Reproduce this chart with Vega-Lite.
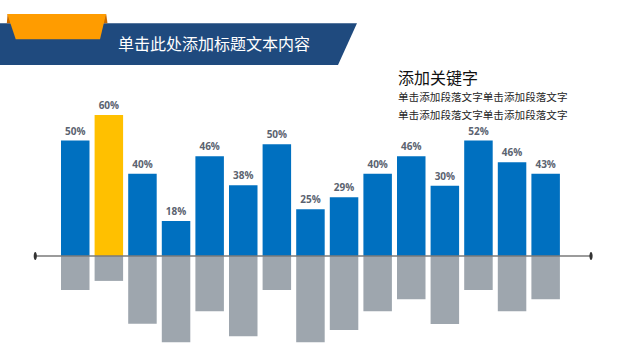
{
  "$schema": "https://vega.github.io/schema/vega-lite/v6.json",
  "width": 635,
  "height": 361,
  "padding": 0,
  "autosize": {"type": "fit", "contains": "padding"},
  "background": "#ffffff",
  "config": {"view": {"stroke": null}},
  "datasets": {
    "bars": [
      {"i": 1, "label": "50%", "up": 49.1, "down": -14.5},
      {"i": 2, "label": "60%", "up": 60.0, "down": -10.6},
      {"i": 3, "label": "40%", "up": 35.0, "down": -28.8},
      {"i": 4, "label": "18%", "up": 14.9, "down": -36.7},
      {"i": 5, "label": "46%", "up": 42.4, "down": -23.5},
      {"i": 6, "label": "38%", "up": 30.1, "down": -34.2},
      {"i": 7, "label": "50%", "up": 47.5, "down": -14.5},
      {"i": 8, "label": "25%", "up": 19.9, "down": -36.7},
      {"i": 9, "label": "29%", "up": 25.0, "down": -31.5},
      {"i": 10, "label": "40%", "up": 35.0, "down": -23.5},
      {"i": 11, "label": "46%", "up": 42.4, "down": -18.4},
      {"i": 12, "label": "30%", "up": 29.9, "down": -28.9},
      {"i": 13, "label": "52%", "up": 49.1, "down": -14.5},
      {"i": 14, "label": "46%", "up": 39.9, "down": -23.5},
      {"i": 15, "label": "43%", "up": 35.0, "down": -18.4}
    ],
    "banner": [
      {"bx": -1.3, "bt": 99.02, "bb": 81.28},
      {"bx": 8.82, "bt": 99.02, "bb": 81.28},
      {"bx": 9.385, "bt": 99.02, "bb": 99.02}
    ],
    "tab": [
      {"ty": 102.98, "tl": -1.022, "tr": 1.915},
      {"ty": 92.21, "tl": -0.772, "tr": 1.737}
    ],
    "folds": [
      {"side": "l", "fy": 102.98, "fl": -1.0134, "fr": -0.9955},
      {"side": "l", "fy": 99.02, "fl": -1.0372, "fr": -0.912},
      {"side": "r", "fy": 102.98, "fl": 1.9, "fr": 1.921},
      {"side": "r", "fy": 99.02, "fl": 1.826, "fr": 1.96}
    ],
    "ends": [{"e": -0.19}, {"e": 16.35}],
    "one": [{}]
  },
  "layer": [
    {
      "data": {"name": "banner"},
      "mark": {"type": "area", "color": "#1f4a7e", "clip": true},
      "encoding": {
        "x": {"field": "bx", "type": "quantitative", "scale": {"domain": [-1.2396, 17.6592], "nice": false, "zero": false, "padding": 0}, "axis": null},
        "y": {"field": "bt", "type": "quantitative", "scale": {"domain": [-44.681, 108.936], "nice": false, "zero": false, "padding": 0}, "axis": null},
        "y2": {"field": "bb"}
      }
    },
    {
      "data": {"name": "folds"},
      "mark": {"type": "area", "orient": "horizontal", "color": "#c86a00"},
      "encoding": {
        "y": {"field": "fy", "type": "quantitative"},
        "x": {"field": "fl", "type": "quantitative"},
        "x2": {"field": "fr"},
        "detail": {"field": "side"}
      }
    },
    {
      "data": {"name": "tab"},
      "mark": {"type": "area", "orient": "horizontal", "color": "#ff9c00"},
      "encoding": {
        "y": {"field": "ty", "type": "quantitative"},
        "x": {"field": "tl", "type": "quantitative"},
        "x2": {"field": "tr"}
      }
    },
    {
      "data": {"name": "one"},
      "mark": {"type": "text", "color": "#ffffff", "font": "Noto Sans CJK SC", "fontSize": 16, "align": "center", "baseline": "middle"},
      "encoding": {
        "x": {"datum": 5.129, "type": "quantitative"},
        "y": {"datum": 89.79, "type": "quantitative"},
        "text": {"value": "单击此处添加标题文本内容"}
      }
    },
    {
      "data": {"name": "one"},
      "mark": {"type": "text", "color": "#111111", "font": "Noto Sans CJK SC", "fontSize": 16, "align": "left", "baseline": "middle"},
      "encoding": {
        "x": {"datum": 10.606, "type": "quantitative"},
        "y": {"datum": 75.32, "type": "quantitative"},
        "text": {"value": "添加关键字"}
      }
    },
    {
      "data": {"name": "one"},
      "mark": {"type": "text", "color": "#262626", "font": "Noto Sans CJK SC", "fontSize": 10.6, "align": "left", "baseline": "middle"},
      "encoding": {
        "x": {"datum": 10.606, "type": "quantitative"},
        "y": {"datum": 67.23, "type": "quantitative"},
        "text": {"value": "单击添加段落文字单击添加段落文字"}
      }
    },
    {
      "data": {"name": "one"},
      "mark": {"type": "text", "color": "#262626", "font": "Noto Sans CJK SC", "fontSize": 10.6, "align": "left", "baseline": "middle"},
      "encoding": {
        "x": {"datum": 10.606, "type": "quantitative"},
        "y": {"datum": 59.57, "type": "quantitative"},
        "text": {"value": "单击添加段落文字单击添加段落文字"}
      }
    },
    {
      "data": {"name": "bars"},
      "mark": {"type": "bar", "width": 28.5, "color": "#9ea6ae"},
      "encoding": {
        "x": {"field": "i", "type": "quantitative"},
        "y": {"field": "down", "type": "quantitative"},
        "y2": {"datum": 0}
      }
    },
    {
      "data": {"name": "bars"},
      "mark": {"type": "bar", "width": 28.5},
      "encoding": {
        "x": {"field": "i", "type": "quantitative"},
        "y": {"field": "up", "type": "quantitative"},
        "y2": {"datum": 0},
        "color": {"condition": {"test": "datum.i == 2", "value": "#ffc000"}, "value": "#0070c0"}
      }
    },
    {
      "data": {"name": "bars"},
      "mark": {"type": "text", "font": "Open Sans", "fontWeight": "bold", "fontSize": 10, "color": "#5b6370", "baseline": "alphabetic", "dy": -6},
      "encoding": {
        "x": {"field": "i", "type": "quantitative"},
        "y": {"field": "up", "type": "quantitative"},
        "text": {"field": "label"}
      }
    },
    {
      "data": {"name": "one"},
      "mark": {"type": "rule", "color": "#7a7a7a", "strokeWidth": 1.5},
      "encoding": {
        "x": {"datum": -0.19, "type": "quantitative"},
        "x2": {"datum": 16.35},
        "y": {"datum": 0, "type": "quantitative"}
      }
    },
    {
      "data": {"name": "ends"},
      "mark": {"type": "point", "filled": true, "color": "#333333", "opacity": 1, "size": 64, "shape": "M0,-1A0.4,1,0,1,1,0,1A0.4,1,0,1,1,0,-1Z"},
      "encoding": {
        "x": {"field": "e", "type": "quantitative"},
        "y": {"datum": 0, "type": "quantitative"}
      }
    }
  ]
}
